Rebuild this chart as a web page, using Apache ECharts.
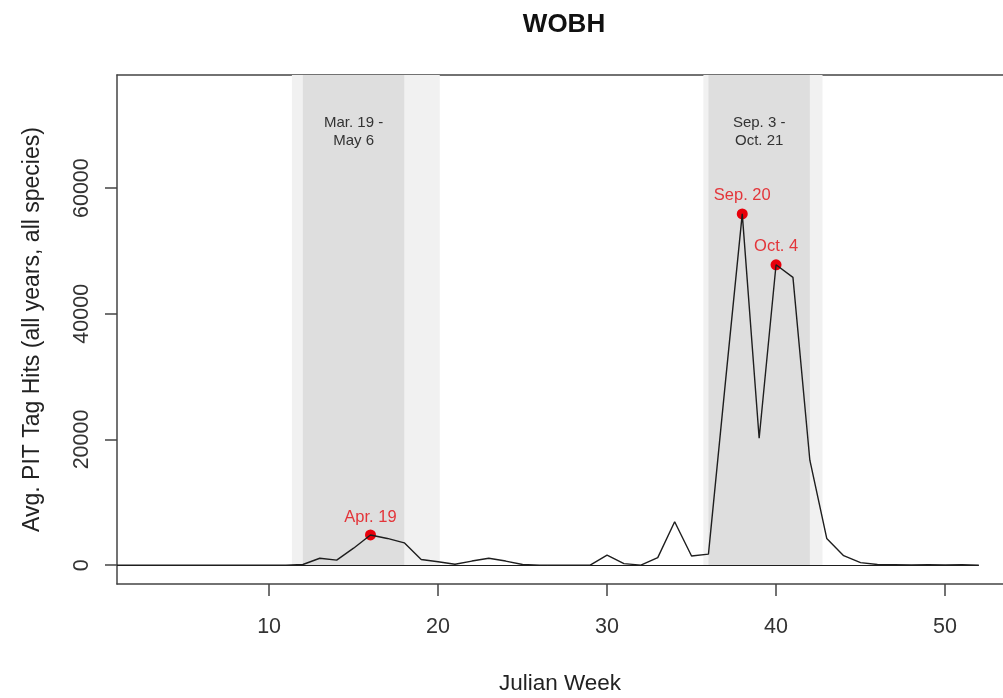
<!DOCTYPE html>
<html>
<head>
<meta charset="utf-8">
<title>WOBH</title>
<script src="https://cdn.jsdelivr.net/npm/echarts@6/dist/echarts.min.js"></script>
<style>
  html, body { margin: 0; padding: 0; background: #fff; }
  #chart { width: 1003px; height: 698px; }
</style>
</head>
<body>
<div id="chart"></div>
<script>
// Julian weeks and average PIT tag hits
const weeks = [1, 2, 3, 4, 5, 6, 7, 8, 9, 10, 11, 12, 13, 14, 15, 16, 17, 18, 19, 20,
  21, 22, 23, 24, 25, 26, 27, 28, 29, 30, 31, 32, 33, 34, 35, 36, 37, 38, 39, 40,
  41, 42, 43, 44, 45, 46, 47, 48, 49, 50, 51, 52];
const hits = [0, 0, 0, 0, 0, 0, 0, 0, 0, 0, 0, 100, 1100, 800, 2700, 4800, 4250, 3550, 900, 550,
  150, 650, 1100, 650, 100, 0, 0, 0, 0, 1600, 250, 0, 1200, 6900, 1450, 1750, 29000, 55900, 20200, 47800,
  45800, 16700, 4250, 1500, 400, 100, 80, 50, 80, 50, 80, 0];

// migration windows: outer (light) and core (darker) ranges, in weeks
const springOuter = [11.35, 20.1];
const springCore = [12, 18];
const fallOuter = [35.7, 42.75];
const fallCore = [36, 42];
const windowLabels = ["Mar. 19 -\nMay 6", "Sep. 3 -\nOct. 21"];

// peak weeks
const peakWeeks = [16, 38, 40];
const peakHits = [4800, 55900, 47800];
const peakLabels = ["Apr. 19", "Sep. 20", "Oct. 4"];

const xTicks = [10, 20, 30, 40, 50];
const yTicks = [0, 20000, 40000, 60000];

const font = "'Liberation Sans', Arial, sans-serif";
const frame = { color: "#444", width: 1.5 };
const chart = echarts.init(document.getElementById("chart"));

const lineData = weeks.map((w, i) => [w, hits[i]]);
const peakData = peakWeeks.map((w, i) => ({ value: [w, peakHits[i]], name: peakLabels[i] }));

const shade = (range, color, label) => [
  {
    xAxis: range[0], yAxis: 0,
    itemStyle: { color: color },
    label: label ? {
      show: true, position: "insideTop", distance: 39,
      formatter: label, color: "#333", fontSize: 15, lineHeight: 18, fontFamily: font
    } : { show: false }
  },
  { xAxis: range[1], yAxis: 78000 }
];

const option = {
  animation: false,
  title: {
    text: "WOBH",
    left: 559, top: 7, textAlign: "center",
    textStyle: { fontSize: 26, fontWeight: "bold", color: "#111", fontFamily: font }
  },
  grid: { left: 117, top: 75, width: 886, height: 509, show: false, outerBoundsMode: "none" },
  xAxis: [
    {
      type: "value", min: 1, max: 53.43,
      name: "Julian Week", nameLocation: "middle", nameGap: 88,
      nameTextStyle: { fontSize: 22.5, color: "#222", fontFamily: font },
      splitLine: { show: false },
      axisLine: { show: true, onZero: false, lineStyle: frame },
      axisTick: { show: true, length: 12, customValues: xTicks, lineStyle: frame },
      axisLabel: { customValues: xTicks, margin: 32, fontSize: 21.5, color: "#333", fontFamily: font }
    },
    {
      type: "value", min: 1, max: 53.43, position: "top",
      splitLine: { show: false },
      axisLine: { show: true, onZero: false, lineStyle: frame },
      axisTick: { show: false },
      axisLabel: { show: false }
    }
  ],
  yAxis: {
    type: "value", min: -3000, max: 78000,
    name: "Avg. PIT Tag Hits (all years, all species)", nameLocation: "middle", nameGap: 73,
    nameTextStyle: { fontSize: 23, color: "#222", fontFamily: font },
    splitLine: { show: false },
    axisLine: { show: true, onZero: false, lineStyle: frame },
    axisTick: { show: true, length: 12, customValues: yTicks, lineStyle: frame },
    axisLabel: {
      customValues: yTicks, rotate: 90, margin: 24, fontSize: 21.5, color: "#333", fontFamily: font,
      formatter: v => String(v)
    }
  },
  series: [
    {
      type: "line", data: [], silent: true,
      markArea: {
        silent: true,
        data: [
          shade(springOuter, "#f1f1f1"),
          shade(fallOuter, "#f1f1f1"),
          shade(springCore, "#dedede", windowLabels[0]),
          shade(fallCore, "#dedede", windowLabels[1])
        ]
      }
    },
    {
      type: "line", data: lineData, showSymbol: false, silent: true,
      lineStyle: { color: "#1e1e1e", width: 1.4 },
      markLine: {
        silent: true, symbol: "none", label: { show: false },
        lineStyle: { color: "#1e1e1e", width: 1, type: "solid" },
        data: [[{ coord: [weeks[0], 0] }, { coord: [weeks[weeks.length - 1], 0] }]]
      }
    },
    {
      type: "scatter", data: peakData, symbol: "circle", symbolSize: 11, silent: true,
      itemStyle: { color: "#e8000b", opacity: 1 },
      label: {
        show: true, position: "top", distance: 4, formatter: p => p.name,
        color: "#e3353a", fontSize: 16.5, fontFamily: font
      }
    }
  ]
};

chart.setOption(option);
</script>
</body>
</html>
